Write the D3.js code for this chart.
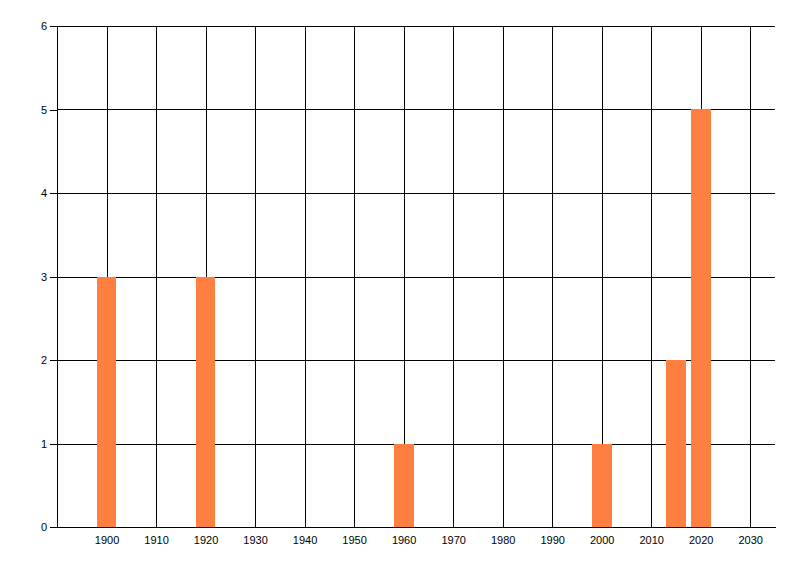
<!DOCTYPE html>
<html>
<head>
<meta charset="utf-8">
<script src="https://cdn.jsdelivr.net/npm/d3@7"></script>
<style>
  body { margin: 0; background: #fff; }
  text { font-family: "Liberation Sans", Arial, sans-serif; font-size: 11px; fill: #000; }
</style>
</head>
<body>
<div id="chart"></div>
<script>
// Data
const years = [1900, 1920, 1960, 2000, 2015, 2020];
const counts = [3, 3, 1, 1, 2, 5];
const xTicks = [1900, 1910, 1920, 1930, 1940, 1950, 1960, 1970, 1980, 1990, 2000, 2010, 2020, 2030];
const yTicks = [0, 1, 2, 3, 4, 5, 6];

const width = 800, height = 576;
const plotLeft = 57, plotRight = 775, plotTop = 26, plotBottom = 527;

const svg = d3.select("#chart").append("svg")
    .attr("width", width)
    .attr("height", height);

const x = d3.scaleLinear().domain([1890, 2035]).range([plotLeft, plotRight]);
const y = d3.scaleLinear().domain([0, 6]).range([plotBottom, plotTop]);

// Grid lines
const grid = svg.append("g").attr("shape-rendering", "crispEdges");
grid.selectAll("line.v")
    .data(xTicks)
    .enter().append("line")
    .attr("class", "v")
    .attr("x1", d => Math.round(x(d)) + 0.5)
    .attr("x2", d => Math.round(x(d)) + 0.5)
    .attr("y1", plotTop)
    .attr("y2", plotBottom)
    .attr("stroke", "#000");

grid.selectAll("line.h")
    .data(yTicks)
    .enter().append("line")
    .attr("class", "h")
    .attr("x1", plotLeft)
    .attr("x2", plotRight)
    .attr("y1", d => Math.round(y(d)) + 0.5)
    .attr("y2", d => Math.round(y(d)) + 0.5)
    .attr("stroke", "#000");

// Bars
svg.append("g")
    .selectAll("rect")
    .data(years.map((yr, i) => ({ yr, v: counts[i] })))
    .enter().append("rect")
    .attr("x", d => Math.round(x(d.yr - 2)))
    .attr("width", d => Math.round(x(d.yr + 2)) - Math.round(x(d.yr - 2)))
    .attr("y", d => Math.round(y(d.v)))
    .attr("height", d => Math.round(y(0)) - Math.round(y(d.v)))
    .attr("fill", "#ff7f40");

// Y axis
const yAxis = svg.append("g")
    .attr("transform", `translate(${plotLeft},0)`)
    .call(d3.axisLeft(y).tickValues(yTicks).tickSize(7).tickPadding(3).tickSizeOuter(0).tickFormat(d3.format("d")));
yAxis.select(".domain").attr("stroke", "#000").attr("shape-rendering", "crispEdges");
yAxis.selectAll(".tick line").attr("stroke", "#000").attr("shape-rendering", "crispEdges");
yAxis.selectAll("text").attr("font-family", null).attr("font-size", null);

// X axis
const xAxis = svg.append("g")
    .attr("transform", `translate(0,${plotBottom})`)
    .call(d3.axisBottom(x).tickValues(xTicks).tickSize(0).tickPadding(9).tickSizeOuter(0).tickFormat(d3.format("d")));
xAxis.select(".domain").attr("stroke", "#000").attr("shape-rendering", "crispEdges");
xAxis.selectAll("text").attr("font-family", null).attr("font-size", null);
</script>
</body>
</html>
